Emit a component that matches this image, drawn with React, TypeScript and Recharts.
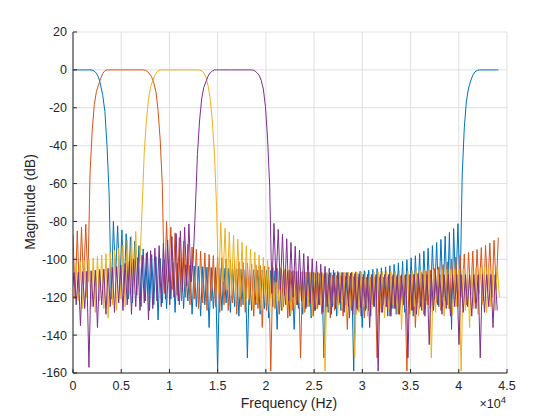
import React from 'react';
import { LineChart, Line, XAxis, YAxis, CartesianGrid } from 'recharts';

// Frequency grid (Hz) shared by the four filter responses
const FREQ_STEP_HZ = 220.5;
const FREQ_HZ: number[] = Array.from({ length: 201 }, (_, i) => i * FREQ_STEP_HZ);
// small per-series frequency offset of the sampled grid (Hz)
const BLUE_SHIFT_HZ = 0;
const ORANGE_SHIFT_HZ = 0;
const YELLOW_SHIFT_HZ = 110;
const PURPLE_SHIFT_HZ = -110;

const X_TICKS = [0, 5000, 10000, 15000, 20000, 25000, 30000, 35000, 40000, 45000];
const X_TICK_LABELS = ['0', '0.5', '1', '1.5', '2', '2.5', '3', '3.5', '4', '4.5'];
const Y_TICKS = [-160, -140, -120, -100, -80, -60, -40, -20, 0, 20];
const Y_TICK_LABELS = ['-160', '-140', '-120', '-100', '-80', '-60', '-40', '-20', '0', '20'];

// Magnitude (dB), one value per grid point
const BLUE_DB = [
  0, 0, 0, 0, 0, 0, 0, 0, 0, -0.1,
  -0.6, -1.8, -3.8, -8, -13.5, -22, -40, -66, -121, -80,
  -110, -82.3, -115, -84.5, -118, -86.5, -121, -88.3, -123, -90.5,
  -119, -92.8, -125, -94.5, -122, -96, -127, -97.5, -124, -98.6,
  -132, -99.5, -123, -100.3, -126, -101, -121, -101.6, -128, -102.1,
  -124, -102.5, -126, -102.9, -122, -103.2, -129, -103.5, -125, -103.7,
  -130, -103.9, -124, -104.1, -136, -104.3, -126, -104.4, -159, -104.6,
  -127, -104.7, -123, -104.8, -128, -105, -125, -105.1, -130, -105.2,
  -124, -105.3, -152, -105.4, -127, -105.5, -124, -105.6, -129, -105.7,
  -126, -105.8, -131, -105.9, -125, -106, -137, -106.1, -127, -106.2,
  -124, -106.3, -130, -106.4, -137, -106.5, -126, -106.6, -129, -106.7,
  -125, -106.8, -131, -106.9, -127, -107, -124, -107, -152, -107.1,
  -128, -107.1, -125, -107.1, -130, -107.1, -127, -107, -124, -107,
  -131, -106.8, -159, -106.6, -127, -106.3, -136, -106, -126, -105.7,
  -130, -105.3, -125, -104.9, -128, -104.5, -124, -104, -130, -103.4,
  -126, -102.7, -129, -101.9, -124, -101.1, -128, -100.2, -125, -99.2,
  -130, -98.1, -123, -96.9, -127, -95.6, -122, -94.2, -126, -92.7,
  -121, -91.1, -125, -89.5, -120, -87.7, -124, -85.8, -137, -83.8,
  -118, -81.2, -119, -56, -30.6, -16.4, -9.6, -5.8, -2.8, -1.1,
  -0.3, 0, 0, 0, 0, 0, 0, 0, 0, 0, 0,
];

const ORANGE_DB = [
  -87, -121, -85, -117, -83, -113, -81.5, -112, -55, -32.7,
  -18.3, -11.5, -7.9, -4.5, -1.9, -0.4, 0, 0, 0, 0,
  0, 0, 0, 0, 0, 0, 0, 0, 0, 0,
  0, 0, 0, 0, -0.2, -0.8, -2.1, -3.8, -6.8, -11.6,
  -21.4, -37, -61, -118, -80, -112, -83, -116, -86, -119,
  -88.5, -122, -90.5, -120, -92, -124, -93.5, -121, -94.7, -126,
  -95.7, -123, -96.6, -127, -97.4, -122, -98, -125, -98.7, -128,
  -99.2, -124, -99.8, -127, -100.3, -123, -100.8, -129, -101.2, -125,
  -101.7, -128, -102.1, -124, -102.5, -130, -102.9, -126, -103.3, -136,
  -103.7, -127, -104, -159, -104.4, -126, -104.7, -129, -105, -125,
  -105.3, -131, -105.6, -127, -105.9, -124, -106.2, -152, -106.5, -128,
  -106.8, -125, -107.1, -130, -107.4, -126, -107.6, -129, -107.9, -125,
  -108.1, -131, -108.3, -127, -108.5, -124, -108.7, -130, -108.8, -137,
  -109, -127, -109.1, -129, -109.2, -125, -109.3, -131, -109.4, -127,
  -109.4, -124, -109.5, -152, -109.5, -128, -109.4, -125, -109.3, -130,
  -109.2, -126, -109, -129, -108.7, -125, -108.5, -159, -108.2, -127,
  -107.9, -136, -107.5, -126, -107, -129, -106.3, -124, -105.6, -128,
  -104.9, -123, -104, -127, -102.8, -122, -101.3, -126, -99.8, -121,
  -98.8, -125, -97.9, -120, -97.2, -124, -96.4, -119, -95.6, -123,
  -94.8, -118, -93.8, -122, -92.7, -117, -91.4, -120, -90, -116, -88.5,
];

const YELLOW_DB = [
  -113, -102, -122, -101.2, -126, -100.7, -120, -100, -125, -99.3,
  -128, -98.5, -122, -97.7, -126, -97, -131, -96.2, -124, -95.2,
  -127, -94.2, -121, -92.4, -125, -90, -119, -87.8, -118, -85.3,
  -114, -100, -73, -43.4, -27, -15.5, -8.9, -5.7, -2.8, -1,
  0, 0, 0, 0, 0, 0, 0, 0, 0, 0,
  0, 0, 0, 0, 0, 0, 0, 0, 0, -0.1,
  -0.5, -1.6, -3.8, -8.3, -15, -27, -44, -72, -118, -80.5,
  -112, -83.6, -116, -85.5, -119, -87.4, -122, -89.3, -120, -91,
  -124, -92.8, -121, -94.6, -126, -96.2, -123, -97.7, -127, -99,
  -124, -100.3, -128, -101.6, -125, -103, -122, -104.4, -127, -105.3,
  -124, -105.8, -129, -106.2, -126, -106.5, -123, -106.7, -128, -106.8,
  -125, -106.9, -130, -107, -126, -107, -124, -107, -159, -107,
  -127, -107, -124, -106.9, -129, -106.9, -126, -106.8, -130, -106.8,
  -125, -106.7, -152, -106.7, -128, -106.6, -125, -106.6, -130, -106.5,
  -126, -106.5, -129, -106.4, -125, -106.4, -131, -106.3, -127, -106.3,
  -124, -106.2, -129, -106.2, -137, -106.1, -126, -106.1, -129, -106,
  -125, -106, -130, -105.9, -127, -105.8, -124, -105.7, -152, -105.6,
  -128, -105.5, -125, -105.4, -130, -105.3, -126, -105.2, -129, -105.1,
  -125, -105, -159, -104.9, -127, -104.8, -136, -104.7, -126, -104.6,
  -129, -104.5, -124, -104.3, -128, -104.1, -125, -103.8, -127, -103.4, -120,
];

const PURPLE_DB = [
  -118, -107, -124, -106.8, -135, -106.5, -126, -106.3, -157, -106,
  -125, -105.7, -136, -105.4, -124, -105.1, -129, -104.7, -125, -104.3,
  -128, -103.8, -123, -103.1, -127, -102.2, -124, -101.2, -129, -100.1,
  -125, -99, -127, -97.8, -123, -96.7, -132, -95.4, -126, -94.1,
  -122, -92.8, -125, -91.5, -121, -89.8, -124, -88, -120, -86.4,
  -122, -85, -117, -83.1, -114, -81.3, -112, -100, -74.5, -44.7,
  -27, -15.3, -9.2, -6.3, -3.3, -1.6, -0.6, 0, 0, 0,
  0, 0, 0, 0, 0, 0, 0, 0, 0, 0,
  0, 0, 0, 0, 0, -0.1, -0.5, -1.5, -2.8, -5.5,
  -10.1, -19.4, -36.5, -61.4, -118, -81, -112, -84.2, -116, -86.8,
  -119, -89.1, -122, -91.1, -120, -93.1, -124, -95.1, -122, -97,
  -126, -98.4, -123, -99.7, -127, -101, -124, -102.6, -128, -103.7,
  -125, -104.7, -129, -105.7, -126, -106.4, -123, -106.9, -128, -107,
  -125, -107.4, -129, -107.6, -126, -107.7, -130, -107.9, -127, -108,
  -136, -108, -125, -108.1, -159, -108, -128, -108.1, -125, -108,
  -130, -108.1, -126, -108, -129, -108.1, -124, -108, -152, -108.1,
  -127, -108, -129, -108.1, -125, -108, -130, -108.1, -145, -108,
  -127, -108.1, -124, -108, -129, -108.1, -126, -108, -130, -108.1,
  -125, -108, -145, -108.1, -128, -108, -125, -108.1, -130, -108,
  -126, -108.1, -152, -108, -128, -108.1, -125, -108, -136, -108.1, -127,
];

const toRows = (vals: number[], shift: number) =>
  FREQ_HZ.map((f, i) => ({ f: f + shift, db: vals[i] }));

const blueData = toRows(BLUE_DB, BLUE_SHIFT_HZ);
const orangeData = toRows(ORANGE_DB, ORANGE_SHIFT_HZ);
const yellowData = toRows(YELLOW_DB, YELLOW_SHIFT_HZ);
const purpleData = toRows(PURPLE_DB, PURPLE_SHIFT_HZ);

const FONT = '"Liberation Sans", Arial, Helvetica, sans-serif';
const INK = '#262626';
const LINE_W = 1;

export default function App() {
  const tickStyle = { fill: INK, fontSize: 12.5, fontFamily: FONT };
  return (
    <div style={{ position: 'absolute', left: 0, top: 0, width: 560, height: 420, background: '#ffffff' }}>
      <LineChart width={560} height={420} margin={{ top: 32, right: 53, bottom: 17, left: 0 }}>
        <CartesianGrid stroke="#dfdfdf" strokeWidth={1} xAxisId={0} yAxisId={0} />
        <XAxis
          xAxisId={0}
          dataKey="f"
          type="number"
          domain={[0, 45000]}
          allowDataOverflow
          ticks={X_TICKS}
          interval={0}
          tickFormatter={(v: number) => X_TICK_LABELS[X_TICKS.indexOf(v)]}
          height={30}
          tickSize={-4}
          tickMargin={12.5}
          stroke={INK}
          tick={tickStyle}
        />
        <XAxis
          xAxisId="top"
          orientation="top"
          dataKey="f"
          type="number"
          domain={[0, 45000]}
          allowDataOverflow
          ticks={X_TICKS}
          interval={0}
          height={0}
          tickSize={-4}
          tick={false}
          stroke={INK}
        />
        <YAxis
          yAxisId={0}
          type="number"
          domain={[-160, 20]}
          allowDataOverflow
          ticks={Y_TICKS}
          interval={0}
          tickFormatter={(v: number) => Y_TICK_LABELS[Y_TICKS.indexOf(v)]}
          width={73}
          tickSize={-4}
          tickMargin={10}
          stroke={INK}
          tick={tickStyle}
        />
        <YAxis
          yAxisId="right"
          orientation="right"
          type="number"
          domain={[-160, 20]}
          allowDataOverflow
          ticks={Y_TICKS}
          interval={0}
          width={0}
          tickSize={-4}
          tick={false}
          stroke={INK}
        />
        <Line data={blueData} dataKey="db" xAxisId={0} yAxisId={0} type="linear" stroke="#0072BD" strokeWidth={LINE_W} dot={false} activeDot={false} isAnimationActive={false} />
        <Line data={orangeData} dataKey="db" xAxisId={0} yAxisId={0} type="linear" stroke="#D95319" strokeWidth={LINE_W} dot={false} activeDot={false} isAnimationActive={false} />
        <Line data={yellowData} dataKey="db" xAxisId={0} yAxisId={0} type="linear" stroke="#EDB120" strokeWidth={LINE_W} dot={false} activeDot={false} isAnimationActive={false} />
        <Line data={purpleData} dataKey="db" xAxisId={0} yAxisId={0} type="linear" stroke="#7E2F8E" strokeWidth={LINE_W} dot={false} activeDot={false} isAnimationActive={false} />
      </LineChart>
      <svg width={560} height={420} style={{ position: 'absolute', left: 0, top: 0, pointerEvents: 'none' }}>
        <text x={289} y={408} textAnchor="middle" fontSize={14} fontFamily={FONT} fill={INK}>
          Frequency (Hz)
        </text>
        <text transform="translate(35,202) rotate(-90)" textAnchor="middle" fontSize={14} fontFamily={FONT} fill={INK}>
          Magnitude (dB)
        </text>
        <text x={506} y={408} textAnchor="end" fontSize={12.5} fontFamily={FONT} fill={INK}>
          ×10<tspan dy={-5} fontSize={9.5}>4</tspan>
        </text>
      </svg>
    </div>
  );
}
